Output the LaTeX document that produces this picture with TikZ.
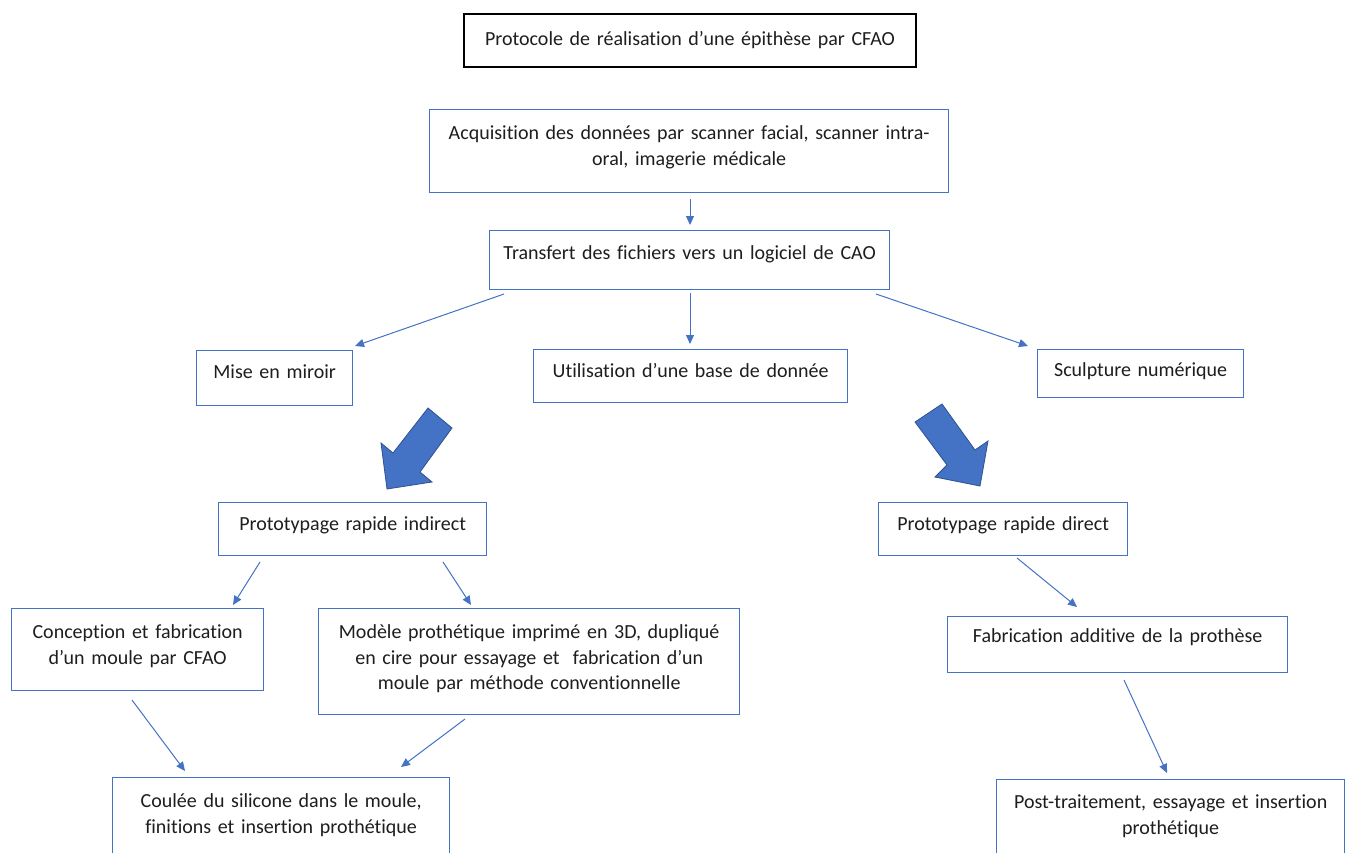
\documentclass[tikz,border=0pt]{standalone}
\usepackage{fontspec}
\setmainfont{Carlito}[Ligatures={NoCommon}]
\usetikzlibrary{arrows.meta,calc}
\definecolor{wblue}{HTML}{4472C4}
\definecolor{wdark}{HTML}{2F528F}
\definecolor{wtext}{HTML}{1E1E1E}
\begin{document}
\begin{tikzpicture}[x=1pt,y=-1pt,
  box/.style={draw=wblue, line width=1.3pt, inner sep=0pt, anchor=north west, align=center,
    text=wtext, font=\fontsize{20}{25.5}\selectfont},
  titlebox/.style={box, draw=black, line width=2pt},
  conn/.style={wblue, line width=1pt, -{Triangle[length=9pt,width=8pt]}},
  blockarrow/.style={fill=wblue, draw=wdark, line width=0.8pt, line join=miter}]
\useasboundingbox (0,0) rectangle (1348,853);
\fill[white] (0,0) rectangle (1348,853);
\clip (0,0) rectangle (1348,853);

% boxes
\node[titlebox, text width=452pt, text height=32pt, text depth=21pt] (title) at (463,13)
  {Protocole de réalisation d’une épithèse par CFAO};
\node[box, text width=519pt, text height=30pt, text depth=53pt] (acq) at (429,109)
  {Acquisition des données par scanner facial, scanner intra-\\oral, imagerie médicale};
\node[box, text width=400pt, text height=29pt, text depth=30pt] (trans) at (489,230)
  {Transfert des fichiers vers un logiciel de CAO};
\node[box, text width=156pt, text height=28pt, text depth=27pt] (miroir) at (196,350)
  {Mise en miroir};
\node[box, text width=314pt, text height=28pt, text depth=25pt] (base) at (533,349)
  {Utilisation d’une base de donnée};
\node[box, text width=206pt, text height=27pt, text depth=21pt] (sculpt) at (1037,349)
  {Sculpture numérique};
\node[box, text width=268pt, text height=28pt, text depth=25pt] (indir) at (218,502)
  {Prototypage rapide indirect};
\node[box, text width=249pt, text height=28pt, text depth=25pt] (dir) at (878,502)
  {Prototypage rapide direct};
\node[box, text width=252pt, text height=30pt, text depth=52pt] (concep) at (11,608)
  {Conception et fabrication\\d’un moule par CFAO};
\node[box, text width=421pt, text height=30pt, text depth=76pt] (modele) at (318,608)
  {Modèle prothétique imprimé en 3D, dupliqué\\en cire pour essayage et\ \ fabrication d’un\\moule par méthode conventionnelle};
\node[box, text width=340pt, text height=26pt, text depth=30pt] (fab) at (947,616)
  {Fabrication additive de la prothèse};
\node[box, text width=337pt, text height=30pt, text depth=100pt] (coulee) at (112,777)
  {Coulée du silicone dans le moule,\\finitions et insertion prothétique};
\node[box, text width=348pt, text height=29pt, text depth=100pt] (post) at (996,779)
  {Post-traitement, essayage et insertion\\prothétique};

% connector end points
\coordinate (a1) at (690,199);   \coordinate (b1) at (690,225);
\coordinate (a2) at (504,294);   \coordinate (b2) at (355,346);
\coordinate (a3) at (690,293);   \coordinate (b3) at (690,344);
\coordinate (a4) at (876,294);   \coordinate (b4) at (1028,346);
\coordinate (a5) at (260,562);   \coordinate (b5) at (233,605);
\coordinate (a6) at (443,562);   \coordinate (b6) at (471,605);
\coordinate (a7) at (1017,558);  \coordinate (b7) at (1077,607);
\coordinate (a8) at (132,700);   \coordinate (b8) at (185,771);
\coordinate (a9) at (465,719);   \coordinate (b9) at (401,767);
\coordinate (a10) at (1124,680); \coordinate (b10) at (1167,773);

\draw[conn] (a1) -- (b1);
\draw[conn] (a2) -- (b2);
\draw[conn] (a3) -- (b3);
\draw[conn] (a4) -- (b4);
\draw[conn] (a5) -- (b5);
\draw[conn] (a6) -- (b6);
\draw[conn] (a7) -- (b7);
\draw[conn] (a8) -- (b8);
\draw[conn] (a9) -- (b9);
\draw[conn] (a10) -- (b10);

% block arrows
\draw[blockarrow] (428,408) -- (452,428) -- (420,472) -- (432,482) -- (387,489) -- (381,443) -- (393,453) -- cycle;
\draw[blockarrow] (915,422) -- (942,404) -- (975,450) -- (988,441) -- (980,486) -- (935,477) -- (947,465) -- cycle;
\end{tikzpicture}
\end{document}
